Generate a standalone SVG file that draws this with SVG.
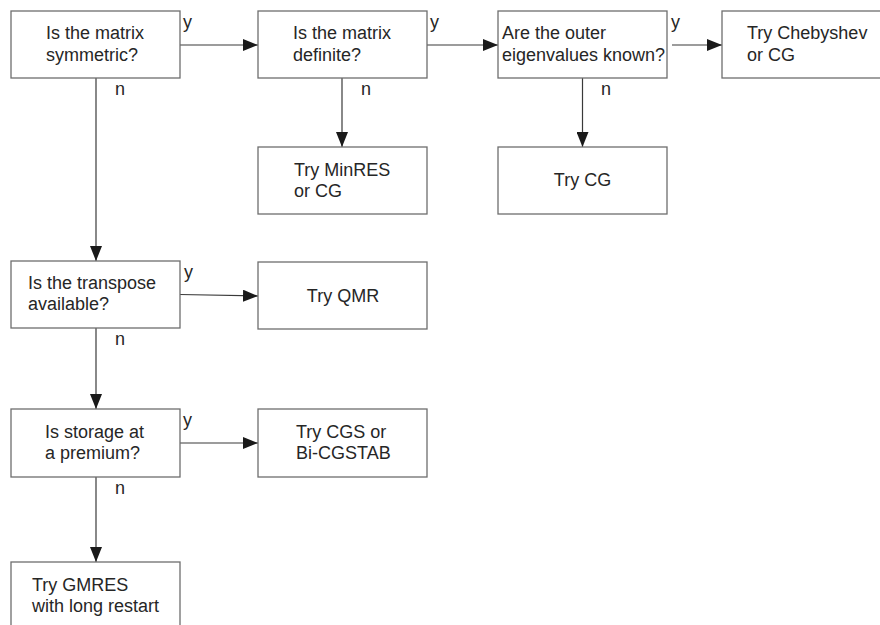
<svg xmlns="http://www.w3.org/2000/svg" width="880" height="625" viewBox="0 0 880 625">
<style>
.box{fill:#fff;stroke:#6e6e6e;stroke-width:1.3}
.t{font-family:"Liberation Sans",Arial,sans-serif;font-size:18px;fill:#262626}
.lbl{font-family:"Liberation Sans",Arial,sans-serif;font-size:18px;fill:#262626}
.c{fill:none;stroke:#3a3a3a;stroke-width:1.2}
</style>
<defs>
<marker id="ah" viewBox="0 0 15 12" refX="15" refY="6" markerWidth="15" markerHeight="12" markerUnits="userSpaceOnUse" orient="auto">
<path d="M0,0 L15,6 L0,12 Z" fill="#1a1a1a"/>
</marker>
</defs>
<rect width="880" height="625" fill="#fff"/>
<g id="connectors">
<line class="c" x1="180" y1="45" x2="258" y2="45" marker-end="url(#ah)"/>
<line class="c" x1="427" y1="45" x2="498" y2="45" marker-end="url(#ah)"/>
<line class="c" x1="672" y1="45" x2="722" y2="45" marker-end="url(#ah)"/>
<line class="c" x1="96" y1="78" x2="96" y2="261" marker-end="url(#ah)"/>
<line class="c" x1="342" y1="78" x2="342" y2="147" marker-end="url(#ah)"/>
<line class="c" x1="582.5" y1="78" x2="582.5" y2="147" marker-end="url(#ah)"/>
<line class="c" x1="180" y1="294.5" x2="258" y2="296" marker-end="url(#ah)"/>
<line class="c" x1="96" y1="328" x2="96" y2="409" marker-end="url(#ah)"/>
<line class="c" x1="180" y1="443" x2="258" y2="443" marker-end="url(#ah)"/>
<line class="c" x1="96" y1="477" x2="96" y2="562" marker-end="url(#ah)"/>
<text class="lbl" x="183" y="28">y</text>
<text class="lbl" x="115" y="95">n</text>
<text class="lbl" x="430" y="28">y</text>
<text class="lbl" x="361" y="95">n</text>
<text class="lbl" x="671" y="28">y</text>
<text class="lbl" x="601" y="95">n</text>
<text class="lbl" x="184" y="278">y</text>
<text class="lbl" x="115" y="345">n</text>
<text class="lbl" x="183" y="426">y</text>
<text class="lbl" x="115" y="494">n</text>
</g>
<g id="q-symmetric">
<rect class="box" x="11" y="11" width="169" height="67"/>
<text class="t" x="46" y="39">Is the matrix</text>
<text class="t" x="46" y="61">symmetric?</text>
</g>
<g id="q-definite">
<rect class="box" x="258" y="11" width="169" height="67"/>
<text class="t" x="293" y="39">Is the matrix</text>
<text class="t" x="293" y="61">definite?</text>
</g>
<g id="q-eigen">
<rect class="box" x="498" y="11" width="169" height="67"/>
<text class="t" x="502" y="39">Are the outer</text>
<text class="t" x="502" y="61">eigenvalues known?</text>
</g>
<g id="r-chebyshev">
<rect class="box" x="722" y="11" width="170" height="67"/>
<text class="t" x="747" y="39">Try Chebyshev</text>
<text class="t" x="747" y="61">or CG</text>
</g>
<g id="r-minres">
<rect class="box" x="258" y="147" width="169" height="67"/>
<text class="t" x="294" y="175.5">Try MinRES</text>
<text class="t" x="294" y="197">or CG</text>
</g>
<g id="r-cg">
<rect class="box" x="498" y="147" width="169" height="67"/>
<text class="t" x="582.5" y="186" text-anchor="middle">Try CG</text>
</g>
<g id="q-transpose">
<rect class="box" x="11" y="261" width="169" height="67"/>
<text class="t" x="28" y="289">Is the transpose</text>
<text class="t" x="28" y="310">available?</text>
</g>
<g id="r-qmr">
<rect class="box" x="258" y="262" width="169" height="67"/>
<text class="t" x="343" y="302" text-anchor="middle">Try QMR</text>
</g>
<g id="q-storage">
<rect class="box" x="11" y="409" width="169" height="68"/>
<text class="t" x="45" y="437.5">Is storage at</text>
<text class="t" x="45" y="458.5">a premium?</text>
</g>
<g id="r-cgs">
<rect class="box" x="258" y="409" width="169" height="68"/>
<text class="t" x="296" y="437.5">Try CGS or</text>
<text class="t" x="296" y="458.5">Bi-CGSTAB</text>
</g>
<g id="r-gmres">
<rect class="box" x="11" y="562" width="169" height="70"/>
<text class="t" x="32" y="591">Try GMRES</text>
<text class="t" x="32" y="612">with long restart</text>
</g>
</svg>
